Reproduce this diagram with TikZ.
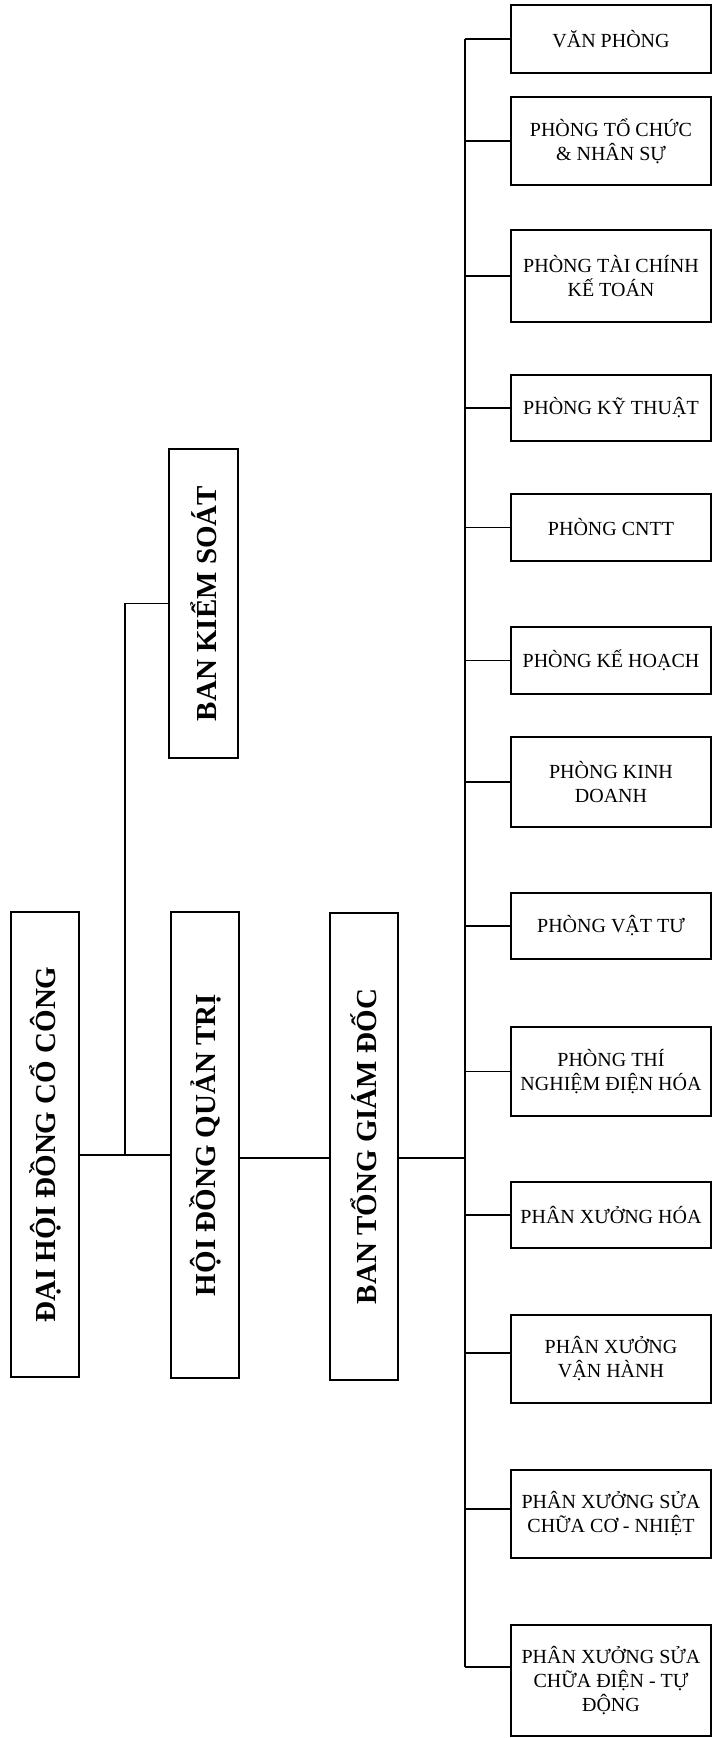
\documentclass[tikz,border=0pt]{standalone}
\usepackage{fontspec}
\setmainfont{Liberation Serif}
\begin{document}
\begin{tikzpicture}[x=1pt,y=-1pt,
  box/.style={draw,line width=1.8pt,minimum width=200pt,align=center,font=\fontsize{20}{24}\selectfont,inner sep=2pt},
  vbox/.style={draw,line width=1.8pt,rotate=90,minimum height=68pt,font=\fontsize{29}{34}\selectfont\bfseries,inner sep=2pt},
  link/.style={line width=1.5pt}]
\useasboundingbox (0,0) rectangle (714,1738);
% left column
\node[vbox,minimum width=465pt] (dhcd) at (45,1144.5) {ĐẠI HỘI ĐỒNG CỔ CÔNG};
\node[vbox,minimum width=466pt] (hdqt) at (205,1145) {HỘI ĐỒNG QUẢN TRỊ};
\node[vbox,minimum width=467pt] (btgd) at (364,1146.5) {BAN TỔNG GIÁM ĐỐC};
\node[vbox,minimum width=309pt,minimum height=69pt] (bks) at (203.5,603.5) {BAN KIỂM SOÁT};
% right column
\node[box,minimum height=68pt] (vp) at (611,39) {VĂN PHÒNG};
\node[box,minimum height=88pt] (ptc) at (611,141) {PHÒNG TỔ CHỨC\\\& NHÂN SỰ};
\node[box,minimum height=92pt] (ptckt) at (611,276) {PHÒNG TÀI CHÍNH\\KẾ TOÁN};
\node[box,minimum height=66pt] (pkt) at (611,408) {PHÒNG KỸ THUẬT};
\node[box,minimum height=67pt] (cntt) at (611,527.5) {PHÒNG CNTT};
\node[box,minimum height=67pt] (pkh) at (611,660.5) {PHÒNG KẾ HOẠCH};
\node[box,minimum height=90pt] (pkd) at (611,782) {PHÒNG KINH\\DOANH};
\node[box,minimum height=66pt] (pvt) at (611,926) {PHÒNG VẬT TƯ};
\node[box,minimum height=89pt] (ptn) at (611,1071.5) {PHÒNG THÍ\\NGHIỆM ĐIỆN HÓA};
\node[box,minimum height=66pt] (pxh) at (611,1215) {PHÂN XƯỞNG HÓA};
\node[box,minimum height=88pt] (pxvh) at (611,1359) {PHÂN XƯỞNG\\VẬN HÀNH};
\node[box,minimum height=88pt] (pxcn) at (611,1514) {PHÂN XƯỞNG SỬA\\CHỮA CƠ - NHIỆT};
\node[box,minimum height=111pt] (pxdt) at (611,1680.5) {PHÂN XƯỞNG SỬA\\CHỮA ĐIỆN - TỰ\\ĐỘNG};
% junctions
\coordinate (j) at (125,1155);
\coordinate (bus) at (465,1158);
\coordinate (e1) at ([yshift=6pt]pxvh.west);
\coordinate (e2) at ([yshift=5pt]pxcn.west);
\coordinate (e3) at ([yshift=13.5pt]pxdt.west);
% connectors
\draw[link] (dhcd.south |- j) -- (hdqt.north |- j);
\draw[link] (j) |- (bks.north);
\draw[link] (hdqt.south |- bus) -- (btgd.north |- bus);
\draw[link] (btgd.south |- bus) -- (bus);
\draw[link] (vp.west -| bus) -- (e3 -| bus);
\foreach \n in {vp,ptc,ptckt,pkt,cntt,pkh,pkd,pvt,ptn,pxh}
  \draw[link] (\n.west -| bus) -- (\n.west);
\foreach \n in {e1,e2,e3}
  \draw[link] (\n -| bus) -- (\n);
\end{tikzpicture}
\end{document}
